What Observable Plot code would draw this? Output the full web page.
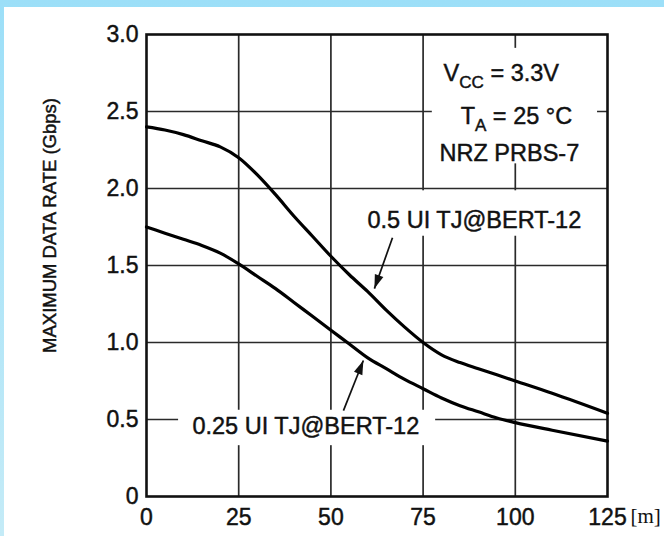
<!DOCTYPE html>
<html><head><meta charset="utf-8">
<script src="https://cdn.jsdelivr.net/npm/d3@7"></script>
<script src="https://cdn.jsdelivr.net/npm/@observablehq/plot@0.6"></script>
<style>
html,body{margin:0;padding:0;}
body{width:664px;height:536px;overflow:hidden;background:linear-gradient(#9cdff8,#c4ebf7);position:relative;}
#panel{position:absolute;left:4px;top:7px;width:660px;height:529px;background:#fff;}
</style></head><body><div id="panel"></div>
<script>
// ---- data ----
const distance = [0,5,10,15,20,25,30,35,40,45,50,55,60,65,70,75,80,85,90,95,100,110,125];
const rateHalfUI = [2.40,2.38,2.35,2.31,2.27,2.20,2.09,1.96,1.82,1.69,1.56,1.44,1.33,1.21,1.10,1.00,0.92,0.87,0.83,0.79,0.75,0.67,0.54];
const rateQuarterUI = [1.75,1.71,1.67,1.63,1.58,1.51,1.43,1.35,1.26,1.17,1.08,0.99,0.90,0.83,0.76,0.70,0.64,0.59,0.55,0.51,0.48,0.43,0.36];
const seriesNames = ["0.5 UI TJ@BERT-12","0.25 UI TJ@BERT-12"];
const conditionLines = ["VCC = 3.3V","TA = 25 °C","NRZ PRBS-7"];
const xTicks = [0,25,50,75,100,125];
const yTicks = [0,0.5,1,1.5,2,2.5,3];
const yTitle = "MAXIMUM DATA RATE (Gbps)";
const xUnit = "[m]";

// ---- tables built from the arrays ----
const curves = [
  ...distance.map((d,i)=>({series:seriesNames[0], x:d, y:rateHalfUI[i]})),
  ...distance.map((d,i)=>({series:seriesNames[1], x:d, y:rateQuarterUI[i]}))
];
// annotation layout (data coordinates)
const notes = [
  {text:conditionLines[0], x:96.2, y:2.745},
  {text:conditionLines[1], x:100.3, y:2.47},
  {text:conditionLines[2], x:98.4, y:2.23},
  {text:seriesNames[0], x:88.9, y:1.79},
  {text:seriesNames[1], x:43.2, y:0.455}
];
const boxes = [
  {x1:77.5, x2:122.3, y1:2.16, y2:2.91},
  {x1:60, x2:120, y1:1.69, y2:1.985},
  {x1:8.7, x2:78.4, y1:0.33, y2:0.56}
];
const arrows = [
  {x1:66.7, y1:1.68, x2:61.8, y2:1.35},
  {x1:53.4, y1:0.558, x2:58.8, y2:0.883}
];

const font = "Liberation Sans, Arial, Helvetica, sans-serif";
const plot = Plot.plot({
  width: 660, height: 529,
  marginLeft: 142, marginTop: 27, marginRight: 57, marginBottom: 40,
  style: {fontFamily: font, fontSize: "23px", color: "#111", background: "transparent"},
  x: {domain: [0,125]},
  y: {domain: [0,3]},
  marks: [
    Plot.ruleX(xTicks.slice(1,-1), {stroke:"#2a2a2a", strokeWidth:1.7}),
    Plot.ruleY(yTicks.slice(1,-1), {stroke:"#2a2a2a", strokeWidth:1.7}),
    Plot.rect(boxes, {x1:"x1", x2:"x2", y1:"y1", y2:"y2", fill:"white"}),
    Plot.frame({stroke:"#111", strokeWidth:2.6}),
    Plot.axisX({ticks: xTicks, tickSize: 0, tickPadding: 12, fontSize: 23, label: null, tickFormat: d => String(d)}),
    Plot.axisY({ticks: yTicks, tickSize: 0, tickPadding: 8, fontSize: 23, label: null, tickFormat: d => d === 0 ? "0" : d.toFixed(1)}),
    Plot.line(curves, {x:"x", y:"y", z:"series", stroke:"#000", strokeWidth:3.2, curve:"monotone-x"}),
    Plot.link(arrows, {x1:"x1", y1:"y1", x2:"x2", y2:"y2", stroke:"#111", strokeWidth:1.7}),
    Plot.text(notes, {x:"x", y:"y", text:"text", fontSize:23.5, fill:"#111"}),
    Plot.text([yTitle], {frameAnchor:"left", text: d => d, rotate:-90, textAnchor:"middle", dx:-96, dy:-40, fontSize:18.5, fill:"#111"}),
    Plot.text([xUnit], {frameAnchor:"bottom-right", text: d => d, dx:23, dy:26, textAnchor:"start", fontFamily:"Liberation Serif, Times New Roman, serif", fontSize:21, fill:"#111"})
  ]
});

// arrowheads, subscripts, slightly heavier text
const svg = d3.select(plot);
const defs = svg.append("defs");
defs.append("marker").attr("id","head").attr("markerUnits","userSpaceOnUse")
  .attr("viewBox","-15 -7 17 14").attr("markerWidth",17).attr("markerHeight",14)
  .attr("refX",0).attr("refY",0).attr("orient","auto")
  .append("path").attr("d","M-14,-4.5L0,0L-14,4.5Z").attr("fill","#111");
svg.selectAll('g[aria-label="link"] path').attr("marker-end","url(#head)");
svg.selectAll("text").each(function(){
  const m = this.textContent.match(/^([VT])(CC|A)( = .*)$/);
  if (m) {
    const s = d3.select(this); s.text(null);
    s.append("tspan").text(m[1]);
    s.append("tspan").attr("font-size",17).attr("dy",7).text(m[2]);
    s.append("tspan").attr("dy",-7).text(m[3]);
  }
});
svg.selectAll("text").filter(function(){ return this.textContent !== xUnit; })
  .attr("stroke","#111").attr("stroke-width",0.45);
document.getElementById("panel").appendChild(plot);
</script></body></html>
